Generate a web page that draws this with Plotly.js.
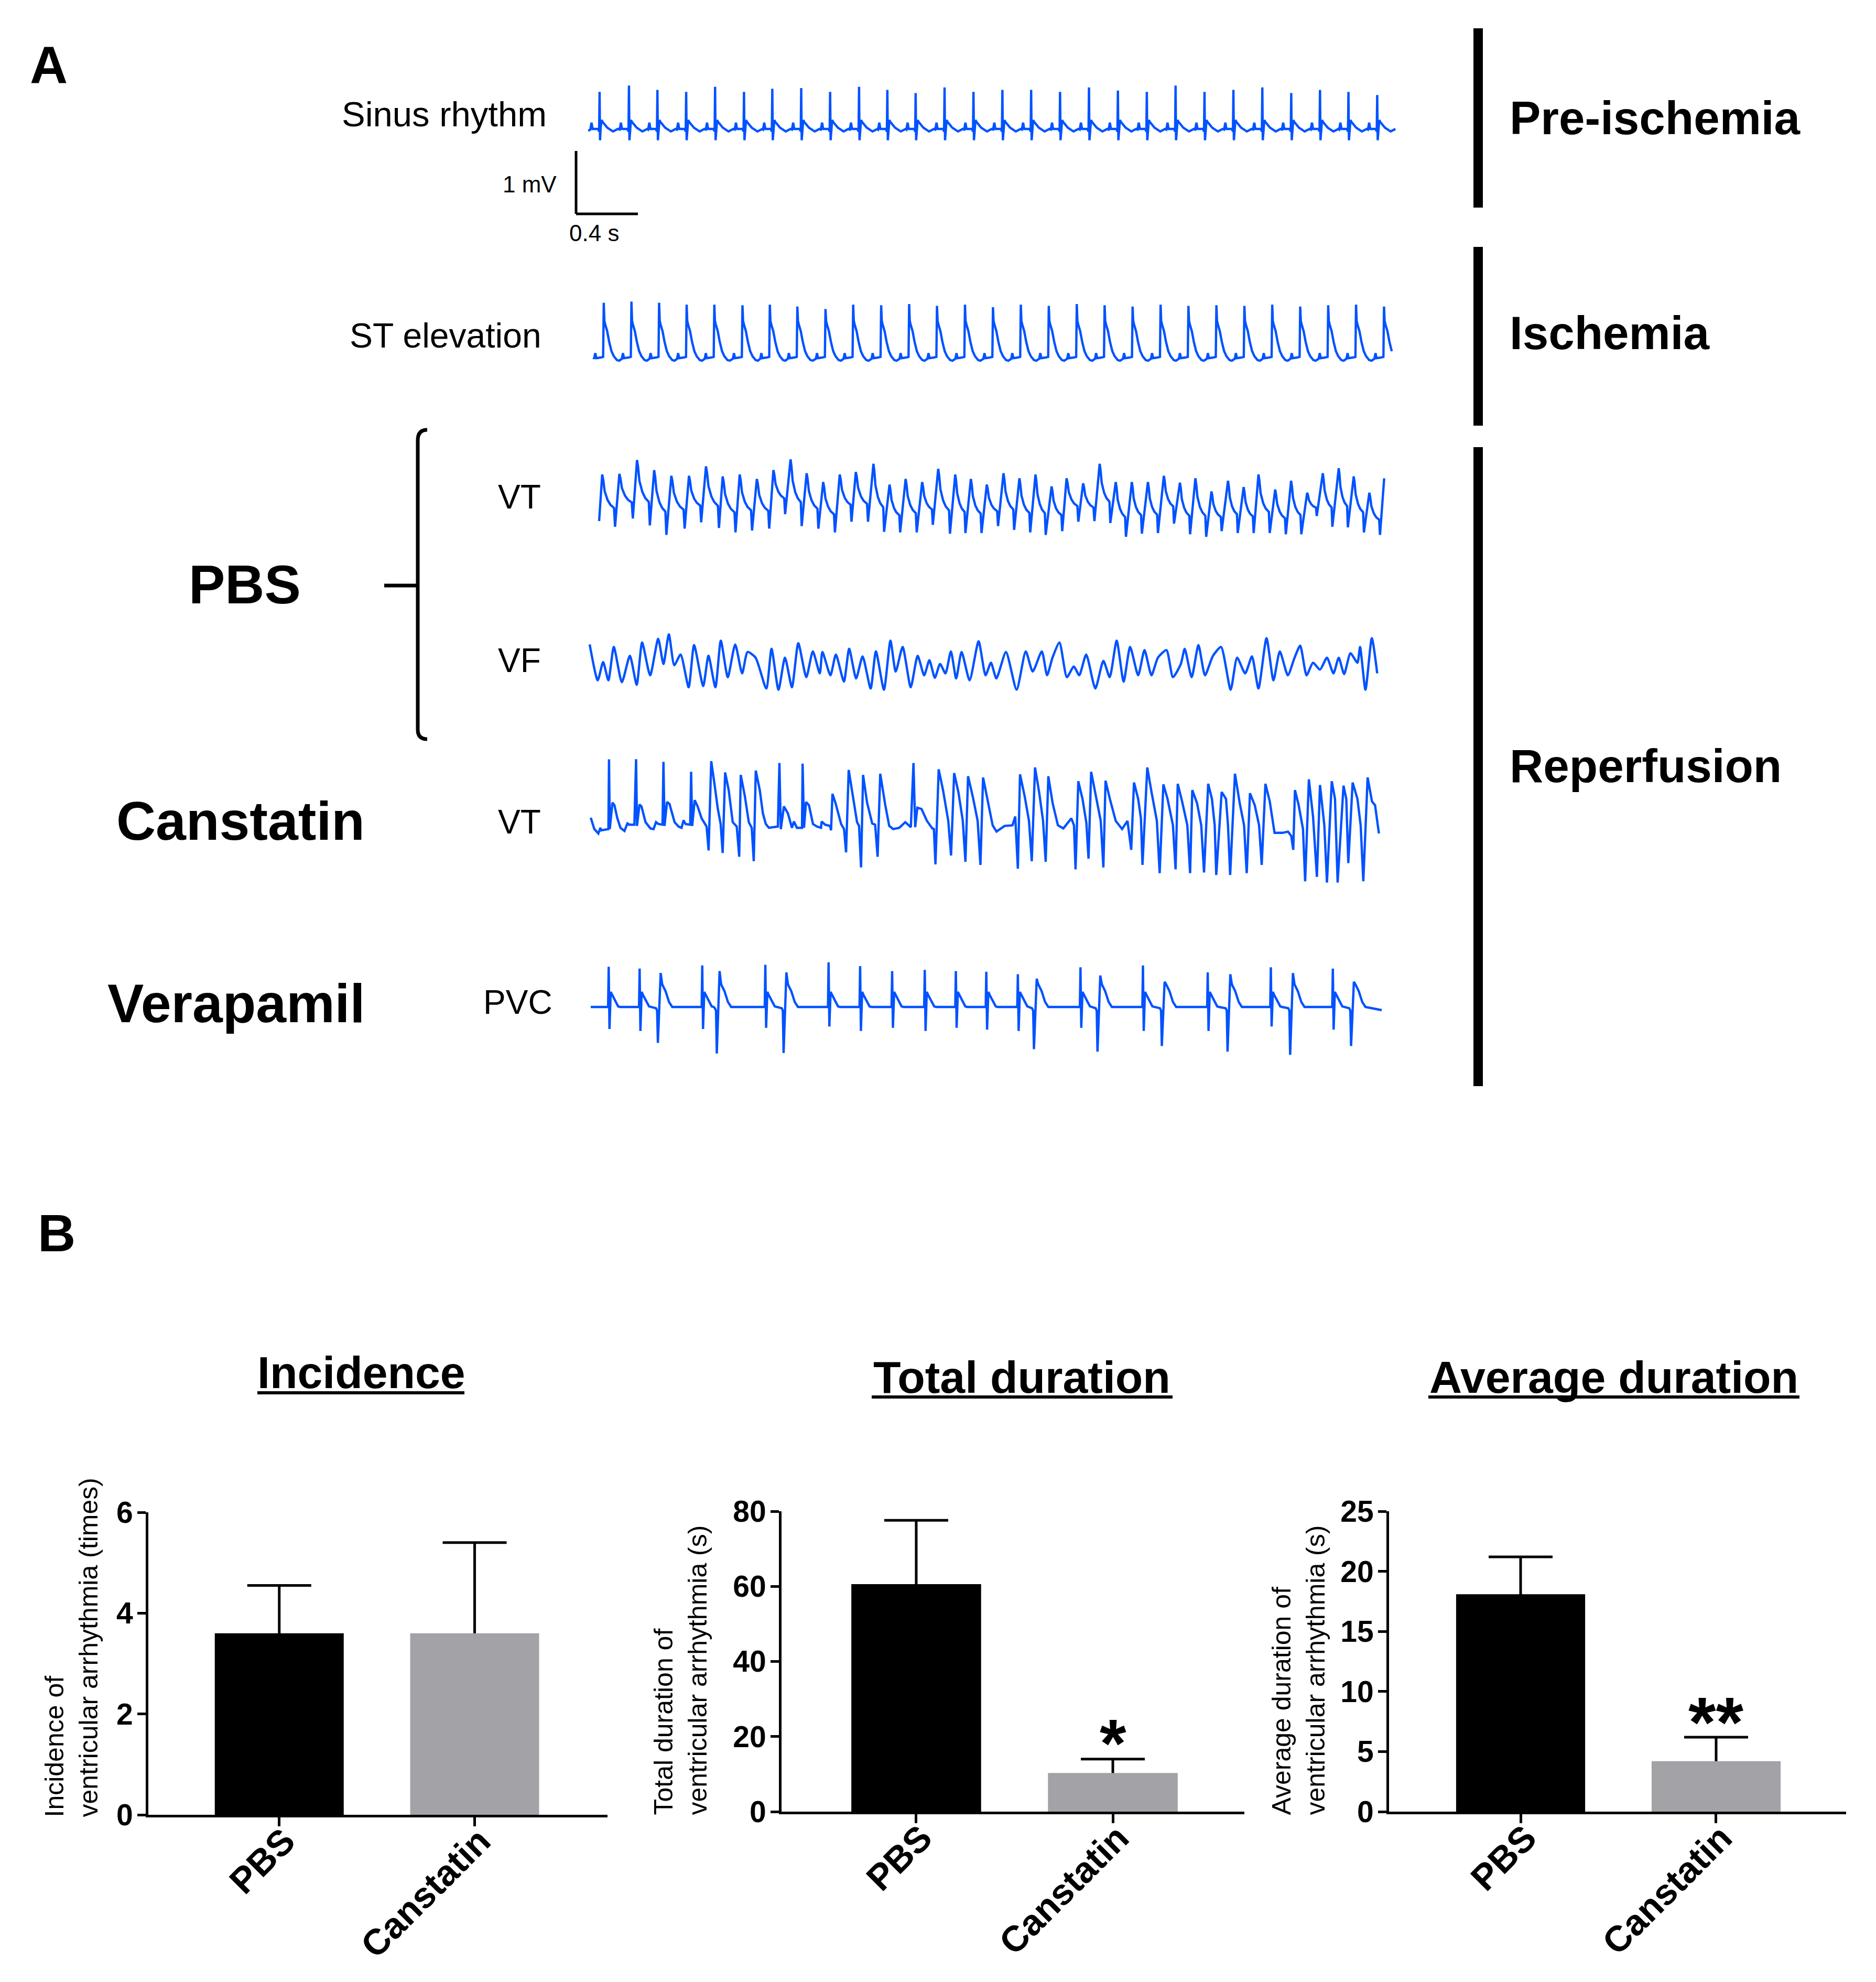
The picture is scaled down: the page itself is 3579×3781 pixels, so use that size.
<!DOCTYPE html>
<html>
<head>
<meta charset="utf-8">
<script src="https://cdn.plot.ly/plotly-3.0.1.min.js"></script>
<style>html,body{margin:0;padding:0;background:#fff;}#chart{width:3579px;height:3781px;}</style>
</head>
<body>
<div id="chart"></div>
<script>
// ---------------- DATA ----------------
// Panel A ECG traces: time in ms, voltage in mV
const sinusRTimes = [64,254,438,624,811,998,1181,1368,1555,1742,1925,2108,2295,2482,2669,2855,3042,3229,3416,3603,3789,3976,4163,4350,4537,4723,4907,5093];
const sinusRAmp = [0.59,0.69,0.62,0.59,0.67,0.59,0.64,0.65,0.59,0.67,0.62,0.57,0.66,0.59,0.62,0.62,0.59,0.66,0.61,0.59,0.69,0.59,0.62,0.66,0.57,0.62,0.59,0.54];
const sinusBeatShape = [[-60,-0.01],[-52,0.10],[-45,0.0],[-10,0.0],[-3,-0.04],[0,'R'],[3,-0.18],[7,0.02],[13,0.14],[20,0.11],[50,0.02],[87,-0.04],[105,-0.02],[118,0.0]];

const stRTimes = [91,270,449,627,806,988,1165,1343,1525,1704,1885,2066,2246,2427,2608,2788,2969,3150,3330,3511,3692,3872,4053,4234,4414,4595,4776,4956,5137];
const stRAmp = [0.87,0.89,0.87,0.84,0.84,0.83,0.84,0.81,0.77,0.84,0.83,0.85,0.82,0.84,0.80,0.84,0.82,0.85,0.83,0.81,0.84,0.82,0.83,0.82,0.84,0.81,0.83,0.84,0.81];
const stBeatShape = [[-62,-0.02],[-55,0.07],[-48,-0.01],[-20,0.0],[-4,0.01],[0,'R'],[4,0.58],[10,0.52],[22,0.42],[35,0.25],[50,0.10],[65,0.02],[85,-0.04],[100,-0.05],[112,-0.03]];
const stEndMs = 5200;

const vtPeakT = [81,192,306,417,528,642,752,860,970,1081,1188,1299,1403,1510,1617,1721,1835,1939,2043,2150,2254,2364,2465,2568,2676,2779,2883,2987,3084,3191,3298,3402,3506,3610,3713,3817,3917,4021,4128,4229,4325,4433,4536,4640,4741,4844,4941,5042,5138];
const vtPeakV = [0.44,0.45,0.67,0.51,0.42,0.42,0.57,0.41,0.44,0.37,0.51,0.68,0.46,0.32,0.44,0.48,0.61,0.28,0.37,0.32,0.53,0.44,0.37,0.28,0.46,0.38,0.44,0.25,0.38,0.30,0.61,0.32,0.32,0.32,0.42,0.31,0.38,0.17,0.34,0.24,0.44,0.20,0.34,0.15,0.46,0.54,0.41,0.15,0.38];
const vtTroughT = [61,164,279,389,496,614,721,836,943,1050,1161,1264,1371,1479,1586,1693,1800,1904,2008,2115,2219,2330,2430,2534,2641,2745,2849,2949,3056,3160,3264,3367,3468,3571,3675,3779,3883,3987,4087,4191,4294,4398,4502,4602,4702,4803,4903,5007,5111];
const vtTroughV = [-0.30,-0.39,-0.26,-0.37,-0.52,-0.42,-0.32,-0.41,-0.48,-0.45,-0.42,-0.19,-0.38,-0.42,-0.48,-0.31,-0.31,-0.47,-0.48,-0.48,-0.36,-0.50,-0.49,-0.49,-0.38,-0.44,-0.48,-0.52,-0.46,-0.31,-0.30,-0.33,-0.55,-0.50,-0.49,-0.34,-0.51,-0.55,-0.46,-0.49,-0.49,-0.49,-0.51,-0.51,-0.22,-0.39,-0.40,-0.48,-0.52];
// descent shape of one VT cycle: fraction of peak->trough time, fraction of level between trough (0) and peak (1)
const vtDescentTime = [0.08,0.19,0.42,0.64,0.92];
const vtDescentLevel = [0.9,0.68,0.51,0.42,0.36];

const vfPoints = [[0,0.28],[52,-0.29],[87,0.00],[121,-0.29],[156,0.24],[208,-0.32],[260,0.10],[304,-0.36],[339,0.31],[391,-0.21],[443,0.37],[477,-0.03],[512,0.44],[547,-0.05],[588,0.12],[640,-0.40],[675,0.27],[734,-0.38],[768,0.10],[813,-0.40],[848,0.34],[893,-0.24],[941,0.28],[986,-0.18],[1021,0.16],[1073,0.07],[1142,-0.42],[1176,0.21],[1221,-0.44],[1263,0.07],[1308,-0.40],[1349,0.30],[1401,-0.24],[1443,0.17],[1488,-0.18],[1505,0.16],[1557,-0.21],[1592,0.12],[1644,-0.31],[1678,0.21],[1723,-0.26],[1765,0.09],[1817,-0.42],[1851,0.17],[1903,-0.44],[1945,0.34],[1979,-0.15],[2024,0.24],[2076,-0.40],[2121,0.10],[2163,-0.21],[2197,0.03],[2232,-0.25],[2266,-0.03],[2301,-0.18],[2336,0.17],[2370,-0.26],[2405,0.16],[2457,-0.29],[2515,0.33],[2560,-0.21],[2595,-0.01],[2630,-0.26],[2692,0.16],[2761,-0.44],[2820,0.17],[2865,-0.15],[2924,0.17],[2958,-0.21],[2993,0.07],[3038,0.31],[3086,-0.24],[3131,-0.07],[3166,-0.21],[3211,0.12],[3270,-0.42],[3322,0.02],[3363,-0.24],[3408,0.34],[3453,-0.31],[3495,0.24],[3547,-0.21],[3588,0.19],[3633,-0.21],[3675,0.07],[3730,0.19],[3772,-0.24],[3823,-0.03],[3848,0.21],[3893,-0.24],[3937,0.27],[3979,-0.21],[4031,0.10],[4083,0.24],[4145,-0.44],[4187,0.07],[4239,-0.18],[4283,0.09],[4325,-0.42],[4377,0.38],[4422,-0.29],[4463,0.17],[4515,-0.21],[4557,0.06],[4595,0.26],[4636,-0.21],[4678,-0.01],[4723,-0.12],[4768,0.07],[4810,-0.18],[4844,0.07],[4879,-0.19],[4920,0.14],[4965,-0.01],[4982,0.24],[5017,-0.44],[5058,0.38],[5093,-0.18]];

const canstatinVTPoints = [[7,0.15],[30,-0.03],[56,-0.10],[69,-0.01],[75,-0.05],[108,-0.03],[121,-0.03],[125,1.08],[130,-0.03],[147,0.39],[160,0.35],[179,0.14],[199,-0.01],[225,-0.06],[244,0.06],[257,0.04],[289,0.04],[300,1.08],[306,0.02],[322,0.36],[335,0.33],[361,0.08],[393,-0.02],[413,-0.03],[429,0.08],[445,0.05],[471,0.04],[477,1.04],[484,0.02],[500,0.40],[516,0.37],[549,0.08],[575,0.01],[594,-0.01],[607,0.11],[620,0.05],[650,0.04],[656,0.88],[663,0.02],[679,0.43],[698,0.33],[724,0.14],[756,0.01],[769,-0.37],[786,1.05],[808,0.67],[828,0.30],[847,0.05],[860,-0.41],[876,0.87],[899,0.59],[925,0.08],[951,0.01],[967,-0.47],[977,0.83],[1003,0.50],[1029,0.08],[1048,-0.01],[1061,-0.54],[1074,0.90],[1100,0.59],[1120,0.22],[1139,0.05],[1159,-0.01],[1217,0.01],[1227,1.02],[1236,-0.03],[1256,0.33],[1282,0.22],[1308,-0.01],[1321,0.09],[1340,-0.01],[1373,-0.01],[1377,1.01],[1386,-0.01],[1399,0.40],[1418,0.35],[1444,0.05],[1470,0.01],[1496,-0.01],[1500,0.09],[1522,0.04],[1554,0.02],[1561,-0.05],[1570,0.53],[1589,0.39],[1626,0.05],[1645,-0.03],[1658,-0.40],[1675,0.91],[1697,0.56],[1729,0.08],[1742,0.02],[1755,-0.64],[1768,0.83],[1794,0.39],[1827,0.06],[1846,0.04],[1862,-0.47],[1879,0.85],[1911,0.36],[1937,0.02],[1963,-0.03],[2002,-0.01],[2041,0.08],
[2077,0.00],[2094,1.02],[2105,0.0],[2119,0.31],[2146,0.29],[2181,0.10],[2216,-0.02],[2226,-0.03],[2236,-0.59],[2257,0.92],[2285,0.59],[2319,0.10],[2337,-0.45],[2357,0.86],[2385,0.55],[2413,0.10],[2430,-0.55],[2447,0.81],[2478,0.48],[2509,0.10],[2527,-0.60],[2544,0.79],[2572,0.45],[2606,0.03],[2631,-0.07],[2683,0.02],[2734,0.03],[2752,0.17],[2769,-0.66],[2783,0.84],[2814,0.48],[2841,0.10],[2859,-0.54],[2880,0.95],[2907,0.55],[2932,0.10],[2949,-0.55],[2966,0.81],[2994,0.38],[3028,0.03],[3063,-0.02],[3115,0.14],[3132,0.03],[3142,-0.67],[3160,0.73],[3187,0.45],[3212,0.07],[3226,-0.50],[3243,0.88],[3271,0.52],[3305,0.10],[3322,-0.64],[3336,0.74],[3364,0.45],[3402,0.10],[3443,-0.03],[3478,0.10],[3502,-0.36],[3520,0.71],[3547,0.45],[3565,0.14],[3575,-0.60],[3606,0.95],[3634,0.55],[3668,0.10],[3686,-0.73],[3710,0.68],[3737,0.45],[3772,0.03],[3789,-0.67],[3803,0.69],[3831,0.41],[3865,0.03],[3883,-0.73],[3897,0.59],[3928,0.38],[3955,0.03],[3973,-0.72],[4000,0.69],[4024,0.45],[4042,0.03],[4052,-0.76],[4087,0.56],[4115,0.45],[4128,0.03],[4142,-0.76],[4173,0.85],[4204,0.38],[4232,0.03],[4249,-0.73],[4270,0.54],[4301,0.35],[4329,0.03],[4346,-0.60],[4370,0.69],[4398,0.41],[4429,-0.09],[4481,-0.09],[4516,-0.07],[4537,-0.14],[4550,-0.36],[4561,0.59],[4585,0.35],[4613,-0.03],[4627,-0.86],[4651,0.76],[4678,0.17],[4703,-0.79],[4723,0.67],[4751,0.03],[4768,-0.88],[4799,0.73],[4820,0.45],[4837,-0.88],[4875,0.66],[4893,0.45],[4906,-0.57],[4934,0.71],[4965,0.45],[4986,0.03],[5003,-0.86],[5031,0.79],[5059,0.41],[5079,0.35],[5104,-0.10]];

const pvcNormalT = [123,323,728,1136,1545,1749,1956,2167,2368,2565,2769,3174,3578,3997,4405,4806];
const pvcNormalUp = [0.64,0.61,0.66,0.67,0.71,0.65,0.57,0.59,0.57,0.56,0.52,0.63,0.66,0.55,0.63,0.61];
const pvcNormalDown = [-0.35,-0.38,-0.35,-0.33,-0.31,-0.38,-0.33,-0.38,-0.33,-0.36,-0.38,-0.33,-0.38,-0.38,-0.31,-0.36];
const pvcNormalShape = [[-4,0.0],[0,'up'],[5,'down'],[13,0.24],[22,0.19],[42,0.10],[61,0.01],[74,0.0]];
const pvcEctopicT = [441,822,1254,2873,3284,3700,4125,4530,4924];
const pvcEctopicTrough = [-0.57,-0.74,-0.73,-0.67,-0.71,-0.62,-0.71,-0.76,-0.62];
const pvcEctopicPeak = [0.54,0.57,0.55,0.45,0.50,0.40,0.52,0.54,0.40];
const pvcEctopicShape = [[-12,-0.02],[-5,-0.06],[0,'trough'],[18,'peak'],[28,0.36],[50,0.25],[72,0.08],[93,0.0]];
const pvcStartEnd = [[7,0.0],[5122,-0.05]];

const scaleBarMs = 400, scaleBarMV = 1;

// Panel B bar data
const groups = ['PBS','Canstatin'];
const incidenceMean = [3.6, 3.6];
const incidenceSEM = [0.95, 1.8];
const totalMean = [60.6, 10.3];
const totalSEM = [17.0, 3.7];
const avgMean = [18.1, 4.2];
const avgSEM = [3.1, 2.0];
const totalSig = '*';
const avgSig = '**';
const yTicksIncidence = [0,2,4,6];
const yTicksTotal = [0,20,40,60,80];
const yTicksAvg = [0,5,10,15,20,25];

// ---------------- LAYOUT HELPERS ----------------
const W = 3579, H = 3781;
const px = v => v / W;
const py = v => 1 - v / H;
const FONT = 'Liberation Sans, Arial, Helvetica, sans-serif';
const BLUE = '#0052ff';
const GRAY = '#a3a2a7';
const PX_PER_MS = 0.295, PX_PER_MV = 120, X0 = 1125;

function buildBeats(shape, times, params) {
  const x = [], y = [];
  times.forEach((t0, i) => {
    shape.forEach(([dt, v]) => {
      x.push(t0 + dt);
      y.push(typeof v === 'string' ? params[v][i] : v);
    });
  });
  return {x, y};
}

const sinus = buildBeats(sinusBeatShape, sinusRTimes, {R: sinusRAmp});
sinus.x.unshift(-9); sinus.y.unshift(-0.03);
const stFull = buildBeats(stBeatShape, stRTimes, {R: stRAmp});
const st = {x: [24], y: [0.0]};
stFull.x.forEach((t, i) => { if (t <= stEndMs) { st.x.push(t); st.y.push(stFull.y[i]); } });

const vt = {x: [], y: []};
for (let i = 0; i < vtPeakT.length; i++) {
  vt.x.push(vtTroughT[i]); vt.y.push(vtTroughV[i]);
  vt.x.push(vtPeakT[i]); vt.y.push(vtPeakV[i]);
  if (i + 1 < vtTroughT.length) {
    const d = vtTroughT[i + 1] - vtPeakT[i];
    const lo = vtTroughV[i + 1], hi = vtPeakV[i];
    vtDescentTime.forEach((f, j) => {
      vt.x.push(vtPeakT[i] + f * d);
      vt.y.push(lo + vtDescentLevel[j] * (hi - lo));
    });
  }
}

const vf = {x: vfPoints.map(p => p[0]), y: vfPoints.map(p => p[1])};
const can = {x: canstatinVTPoints.map(p => p[0]), y: canstatinVTPoints.map(p => p[1])};

const pvcEvents = [];
pvcNormalT.forEach((t, i) => pvcEvents.push({t, shape: pvcNormalShape, p: {up: pvcNormalUp[i], down: pvcNormalDown[i]}}));
pvcEctopicT.forEach((t, i) => pvcEvents.push({t, shape: pvcEctopicShape, p: {trough: pvcEctopicTrough[i], peak: pvcEctopicPeak[i]}}));
pvcEvents.sort((a, b) => a.t - b.t);
const pvc = {x: [pvcStartEnd[0][0]], y: [pvcStartEnd[0][1]]};
pvcEvents.forEach(ev => ev.shape.forEach(([dt, v]) => {
  pvc.x.push(ev.t + dt);
  pvc.y.push(typeof v === 'string' ? ev.p[v] : v);
}));
pvc.x.push(pvcStartEnd[1][0]); pvc.y.push(pvcStartEnd[1][1]);

const ecgRows = [
  {d: sinus, base: 246, shape: 'linear'},
  {d: st, base: 682, shape: 'linear'},
  {d: vt, base: 958, shape: 'linear'},
  {d: vf, base: 1263, shape: 'spline'},
  {d: can, base: 1578, shape: 'linear'},
  {d: pvc, base: 1921, shape: 'linear'}
];

const data = [];
const layout = {
  width: W, height: H,
  margin: {l: 0, r: 0, t: 0, b: 0, pad: 0},
  paper_bgcolor: '#ffffff', plot_bgcolor: 'rgba(0,0,0,0)',
  showlegend: false, barmode: 'overlay',
  font: {family: FONT, color: '#000'},
  xaxis: {domain: [px(1060), px(2720)], range: [(1060 - X0) / PX_PER_MS, (2720 - X0) / PX_PER_MS], visible: false, anchor: 'y'},
  annotations: [], shapes: []
};

const HALF = 140;
ecgRows.forEach((r, i) => {
  const ax = i === 0 ? 'yaxis' : 'yaxis' + (i + 1);
  const ref = i === 0 ? 'y' : 'y' + (i + 1);
  layout[ax] = {domain: [py(r.base + HALF), py(r.base - HALF)], range: [-HALF / PX_PER_MV, HALF / PX_PER_MV], visible: false, anchor: 'x'};
  data.push({type: 'scatter', mode: 'lines', x: r.d.x, y: r.d.y, xaxis: 'x', yaxis: ref,
    line: {color: BLUE, width: 4.4, shape: r.shape, smoothing: 0.6}, hoverinfo: 'skip'});
});

// Bar charts
const barCfg = [
  {xa: 'xaxis2', ya: 'yaxis7', x: 'x2', y: 'y7', dom: [283, 1159], rng: [-0.67, 1.68], yb: 3462, yt: 2885, ymax: 6, ticks: yTicksIncidence, mean: incidenceMean, sem: incidenceSEM},
  {xa: 'xaxis3', ya: 'yaxis8', x: 'x3', y: 'y8', dom: [1491, 2374], rng: [-0.685, 1.669], yb: 3456, yt: 2883, ymax: 80, ticks: yTicksTotal, mean: totalMean, sem: totalSEM},
  {xa: 'xaxis4', ya: 'yaxis9', x: 'x4', y: 'y9', dom: [2650, 3522], rng: [-0.673, 1.665], yb: 3456, yt: 2883, ymax: 25, ticks: yTicksAvg, mean: avgMean, sem: avgSEM}
];
barCfg.forEach(c => {
  // error bars (SEM, upper part visible); the bar trace drawn after covers the part inside the bar
  data.push({type: 'bar', x: groups, y: c.mean, xaxis: c.x, yaxis: c.y, width: 0.66,
    marker: {color: 'rgba(0,0,0,0)', line: {width: 0}},
    error_y: {type: 'data', array: c.sem, arrayminus: c.mean, symmetric: false, visible: true, color: '#000', thickness: 5, width: 61},
    hoverinfo: 'skip'});
  data.push({type: 'bar', x: groups, y: c.mean, xaxis: c.x, yaxis: c.y, width: 0.66,
    marker: {color: ['#000000', GRAY], line: {width: 0}}, hoverinfo: 'skip'});
  layout[c.xa] = {domain: [px(c.dom[0]), px(c.dom[1])], range: c.rng, type: 'category', anchor: c.y,
    showline: true, linewidth: 5, linecolor: '#000', ticks: 'outside', ticklen: 17, tickwidth: 5, tickcolor: '#000',
    tickangle: -45, ticklabelstandoff: -40, ticklabelshift: 10,
    tickfont: {family: FONT, size: 69, weight: 'bold', color: '#000'}, showgrid: false, zeroline: false};
  layout[c.ya] = {domain: [py(c.yb), py(c.yt)], range: [0, c.ymax], anchor: c.x, tickvals: c.ticks,
    showline: true, linewidth: 5, linecolor: '#000', ticks: 'outside', ticklen: 16, tickwidth: 5, tickcolor: '#000',
    ticklabelstandoff: -3,
    tickfont: {family: FONT, size: 57, weight: 'bold', color: '#000'}, showgrid: false, zeroline: false};
});

// text annotations
function txt(text, x, y, xanchor, size, bold, extra) {
  layout.annotations.push(Object.assign({text, x: px(x), y: py(y), xref: 'paper', yref: 'paper', xanchor, yanchor: 'middle',
    showarrow: false, font: {family: FONT, size, color: '#000', weight: bold ? 'bold' : 'normal'}}, extra || {}));
}
txt('A', 55, 124, 'left', 100, true);
txt('Sinus rhythm', 1045, 218, 'right', 67, false);
txt('1 mV', 1064, 351, 'right', 44, false);
txt('0.4 s', 1133, 445, 'center', 44, false);
txt('ST elevation', 1035, 640, 'right', 66, false);
txt('VT', 1034, 948, 'right', 64, false);
txt('VF', 1034, 1260, 'right', 64, false);
txt('VT', 1034, 1568, 'right', 64, false);
txt('PVC', 1056, 1912, 'right', 64, false);
txt('PBS', 467, 1115, 'center', 104, true);
txt('Canstatin', 459, 1566, 'center', 104, true);
txt('Verapamil', 450, 1914, 'center', 104, true);
txt('Pre-ischemia', 2878, 225, 'left', 89, true);
txt('Ischemia', 2878, 635, 'left', 89, true);
txt('Reperfusion', 2878, 1461, 'left', 89, true);
txt('B', 70, 2352, 'left', 100, true);
txt('Incidence', 689, 2618, 'center', 86, true);
txt('Total duration', 1950, 2627, 'center', 86, true);
txt('Average duration', 3079, 2627, 'center', 86, true);

// y-axis titles
[['Incidence of<br>ventricular arrhythmia (times)', 136, 3469],
 ['Total duration of<br>ventricular arrhythmia (s)', 1298, 3465],
 ['Average duration of<br>ventricular arrhythmia (s)', 2477, 3465]].forEach(([t, x, y]) => {
  layout.annotations.push({text: t, x: px(x), y: py(y), xref: 'paper', yref: 'paper', xanchor: 'center', yanchor: 'bottom',
    textangle: -90, align: 'left', showarrow: false, font: {family: FONT, size: 50, color: '#000'}});
});

// significance marks
layout.annotations.push({text: totalSig, x: 1, xref: 'x3', y: py(3326), yref: 'paper', xanchor: 'center', yanchor: 'middle', showarrow: false,
  font: {family: FONT, size: 130, weight: 'bold', color: '#000'}});
layout.annotations.push({text: avgSig, x: 1, xref: 'x4', y: py(3285), yref: 'paper', xanchor: 'center', yanchor: 'middle', showarrow: false,
  font: {family: FONT, size: 135, weight: 'bold', color: '#000'}});

// shapes
const S = layout.shapes;
function line(x0, y0, x1, y1, w) {
  S.push({type: 'line', xref: 'paper', yref: 'paper', x0: px(x0), y0: py(y0), x1: px(x1), y1: py(y1), line: {color: '#000', width: w}});
}
function rect(x0, y0, x1, y1) {
  S.push({type: 'rect', xref: 'paper', yref: 'paper', x0: px(x0), y0: py(y0), x1: px(x1), y1: py(y1), fillcolor: '#000', line: {width: 0}});
}
// phase bars
rect(2811, 54, 2829, 396);
rect(2811, 471, 2829, 812);
rect(2811, 853, 2829, 2072);
// brace
S.push({type: 'path', xref: 'paper', yref: 'paper',
  path: `M ${px(815)},${py(820)} Q ${px(797)},${py(820)} ${px(797)},${py(840)} L ${px(797)},${py(1392)} Q ${px(797)},${py(1410)} ${px(815)},${py(1410)}`,
  line: {color: '#000', width: 7}});
line(733, 1117, 797, 1117, 7);
// scale bar (1 mV vertical, 0.4 s horizontal) tied to the time axis
const sbX = (1099 - X0) / PX_PER_MS;
S.push({type: 'line', xref: 'x', yref: 'paper', x0: sbX, x1: sbX, y0: py(408), y1: py(408 - scaleBarMV * PX_PER_MV), line: {color: '#000', width: 5}});
S.push({type: 'line', xref: 'x', yref: 'paper', x0: sbX, x1: sbX + scaleBarMs, y0: py(408), y1: py(408), line: {color: '#000', width: 5}});
// title underlines
line(491, 2657, 886, 2657, 6);
line(1663, 2665, 2237, 2665, 6);
line(2725, 2665, 3433, 2665, 6);

Plotly.newPlot('chart', data, layout, {staticPlot: true, displayModeBar: false});
</script>
</body>
</html>
